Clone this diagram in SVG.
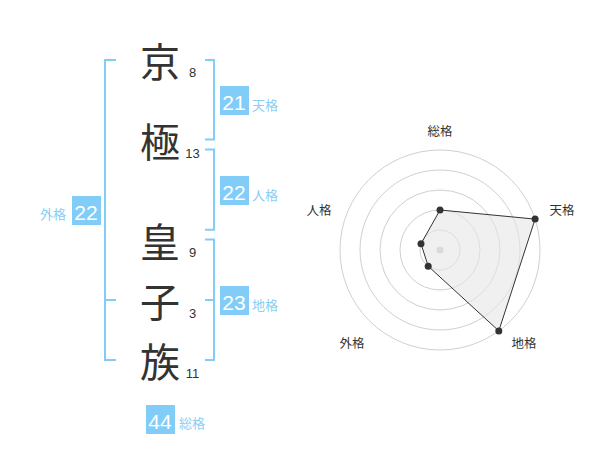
<svg xmlns="http://www.w3.org/2000/svg" width="600" height="470" viewBox="0 0 600 470">
<style>
.big{font-family:"Noto Sans CJK JP","Noto Sans",sans-serif;font-size:40px;fill:#333;text-anchor:middle;dominant-baseline:central}
.num{font-family:"Liberation Sans",Arial,sans-serif;font-size:13px;fill:#333;text-anchor:middle}
.br{fill:none;stroke:#82cdf8;stroke-width:2}
.box{fill:#82cdf8}
.bt{font-family:"Liberation Sans",Arial,sans-serif;font-size:21px;fill:#fff;text-anchor:middle}
.lb{font-family:"Noto Sans CJK JP","Noto Sans",sans-serif;font-size:13px;fill:#88cef5}
.ring{fill:none;stroke:#d0d0d0;stroke-width:1}
.rl{font-family:"Noto Sans CJK JP","Noto Sans",sans-serif;font-size:12.5px;fill:#333;text-anchor:middle;dominant-baseline:central}
.dot{fill:#333}
</style>
<rect width="600" height="470" fill="#fff"/>
<g id="connectors">
<path class="br" d="M116,60 H105 V360 H116 M105,300 H116"/>
<path class="br" d="M205,60 H214 V139.5 H205"/>
<path class="br" d="M205,149.5 H214 V229.8 H205"/>
<path class="br" d="M205,239.5 H214 V360 H205 M205,300 H214"/>
</g>
<g id="char-1"><text class="big" x="160" y="59.5">京</text><text class="num" x="192.5" y="77.3">8</text></g>
<g id="char-2"><text class="big" x="160" y="140">極</text><text class="num" x="192.5" y="157.7">13</text></g>
<g id="char-3"><text class="big" x="160" y="239.5">皇</text><text class="num" x="192.5" y="257">9</text></g>
<g id="char-4"><text class="big" x="160" y="300">子</text><text class="num" x="192.5" y="318">3</text></g>
<g id="char-5"><text class="big" x="160" y="359.5">族</text><text class="num" x="192.5" y="378">11</text></g>
<g id="tenkaku"><rect class="box" x="220" y="86" width="29" height="29"/><text class="bt" x="234" y="110">21</text><text class="lb" x="252" y="110">天格</text></g>
<g id="jinkaku"><rect class="box" x="220" y="176" width="29" height="29"/><text class="bt" x="234" y="200">22</text><text class="lb" x="252" y="200">人格</text></g>
<g id="chikaku"><rect class="box" x="220" y="286" width="29" height="29"/><text class="bt" x="234" y="310">23</text><text class="lb" x="252" y="310">地格</text></g>
<g id="gaikaku"><rect class="box" x="72" y="196" width="29" height="29"/><text class="bt" x="86" y="220">22</text><text class="lb" x="40" y="219">外格</text></g>
<g id="soukaku"><rect class="box" x="146" y="405" width="29" height="29"/><text class="bt" x="160" y="429">44</text><text class="lb" x="179" y="428">総格</text></g>
<g id="radar">
<circle class="ring" cx="440" cy="250" r="20"/>
<circle class="ring" cx="440" cy="250" r="40"/>
<circle class="ring" cx="440" cy="250" r="60"/>
<circle class="ring" cx="440" cy="250" r="80"/>
<circle class="ring" cx="440" cy="250" r="100"/>
<circle cx="440" cy="250" r="3.5" fill="#c8c8c8"/>
<polygon points="440,210 535.1,219.1 498.8,330.9 428.2,266.2 421,243.8" fill="#e6e6e6" fill-opacity="0.6" stroke="#333" stroke-width="1"/>
<circle class="dot" cx="440" cy="210" r="3.5"/>
<circle class="dot" cx="535.1" cy="219.1" r="3.5"/>
<circle class="dot" cx="498.8" cy="330.9" r="3.5"/>
<circle class="dot" cx="428.2" cy="266.2" r="3.5"/>
<circle class="dot" cx="421" cy="243.8" r="3.5"/>
<text class="rl" x="440" y="130.5">総格</text>
<text class="rl" x="562" y="209">天格</text>
<text class="rl" x="524" y="342">地格</text>
<text class="rl" x="352" y="342">外格</text>
<text class="rl" x="319" y="209">人格</text>
</g>
</svg>
